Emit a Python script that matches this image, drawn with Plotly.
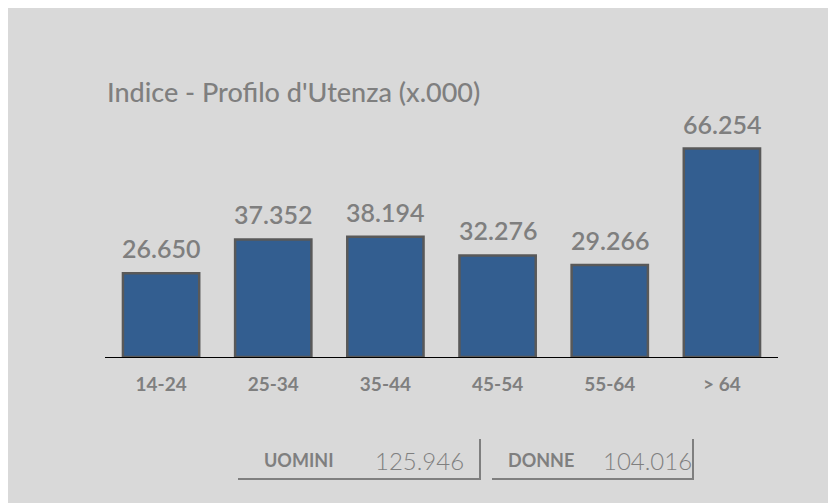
import plotly.graph_objects as go

# ---- data ----
categories = ["14-24", "25-34", "35-44", "45-54", "55-64", "> 64"]
values = [26650, 37352, 38194, 32276, 29266, 66254]
title_text = "Indice - Profilo d'Utenza (x.000)"
total_labels = ["UOMINI", "DONNE"]
total_values = [125946, 104016]

# ---- layout constants (screen pixels, page has 8px body margin) ----
OX, OY = 8, 9
W, H = 836 - OX, 504 - OY
L, R = 105 - OX, 778 - OX         # plot area x (figure pixels)
T, B = 100 - OY, 358 - OY         # plot area y (figure pixels)
YMAX = 82000

GRAY_BG = "#d9d9d9"
TXT = "#7f7f7f"
BAR = "#335e90"
BAR_LINE = "#595959"
FONT = "Lato, 'Open Sans', sans-serif"


def px(x):  # screen x -> paper
    return (x - OX - L) / (R - L)


def py(y):  # screen y -> paper
    return (B - (y - OY)) / (B - T)


def fmt(v):
    return f"{v:,}".replace(",", ".")


fig = go.Figure()
fig.add_trace(go.Bar(
    x=categories, y=values,
    marker=dict(color=BAR, line=dict(color=BAR_LINE, width=2.5)),
    hoverinfo="skip",
))

annotations = []
for c, v in zip(categories, values):
    annotations.append(dict(
        x=c, y=v, xref="x", yref="y", text=fmt(v), showarrow=False,
        yanchor="bottom", yshift=8,
        font=dict(family=FONT, size=25, color=TXT, weight=600),
    ))

# totals at bottom
label_x = [298, 541]
value_x = [419, 647]
for lab, val, lx, vx in zip(total_labels, total_values, label_x, value_x):
    annotations.append(dict(
        x=px(lx), y=py(461), xref="paper", yref="paper", text=lab, showarrow=False,
        xanchor="center", yanchor="middle",
        font=dict(family=FONT, size=18, color=TXT, weight="bold"),
    ))
    annotations.append(dict(
        x=px(vx), y=py(461), xref="paper", yref="paper", text=fmt(val), showarrow=False,
        xanchor="center", yanchor="middle",
        font=dict(family=FONT, size=24, color=TXT, weight=300),
    ))

shapes = []
for (x0, x1, xv) in [(238, 480, 480), (492, 694, 693)]:
    shapes.append(dict(type="line", xref="paper", yref="paper", x0=px(x0), x1=px(x1),
                       y0=py(480), y1=py(480), line=dict(color=TXT, width=2)))
    shapes.append(dict(type="line", xref="paper", yref="paper", x0=px(xv), x1=px(xv),
                       y0=py(440), y1=py(481), line=dict(color=TXT, width=2)))

fig.update_layout(
    width=W, height=H,
    margin=dict(l=L, r=W - R, t=T, b=H - B, pad=0),
    paper_bgcolor=GRAY_BG,
    plot_bgcolor=GRAY_BG,
    showlegend=False,
    bargap=0.32,
    title=dict(text=title_text, xref="container", yref="container",
               x=(107 - OX) / W, xanchor="left", y=1 - (94 - OY) / H, yanchor="middle",
               font=dict(family=FONT, size=27, color=TXT, weight=500)),
    xaxis=dict(showline=True, linecolor="black", linewidth=1, showgrid=False,
               zeroline=False, ticks="outside", ticklen=10, tickcolor="rgba(0,0,0,0)",
               tickfont=dict(family=FONT, size=19, color=TXT, weight="bold")),
    yaxis=dict(range=[0, YMAX], visible=False, showgrid=False, zeroline=False),
    annotations=annotations,
    shapes=shapes,
)

fig.write_html("out.html")
